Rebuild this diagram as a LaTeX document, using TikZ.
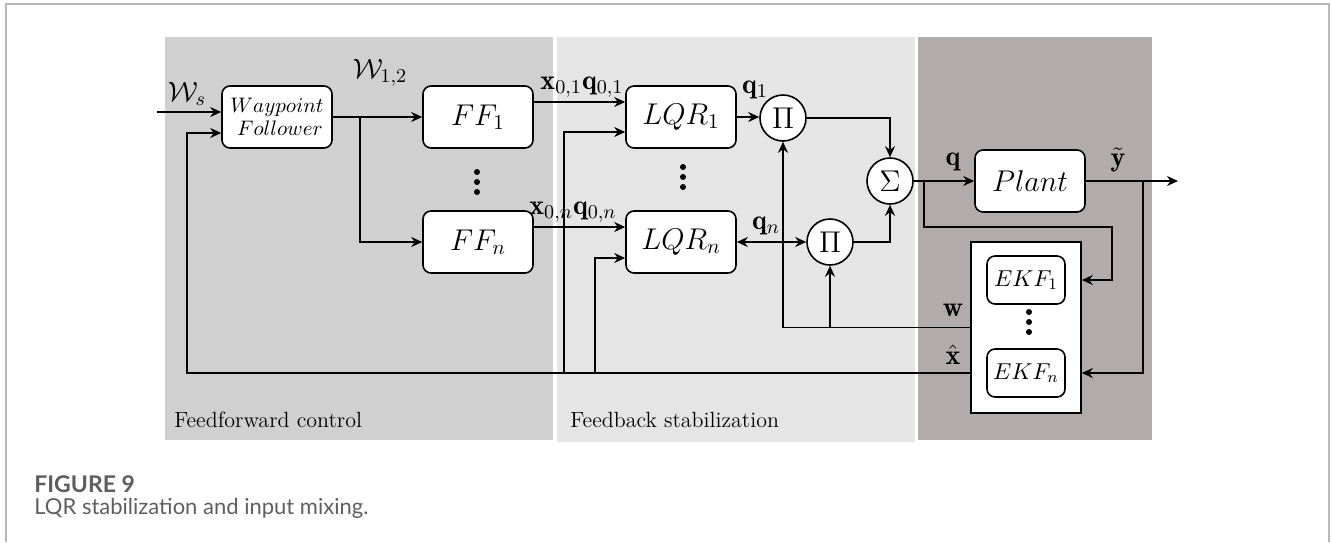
\documentclass[tikz,border=0pt]{standalone}
\usepackage{fix-cm}
\usepackage{fontspec}
\newfontfamily\capfont{Lato}
\usetikzlibrary{arrows.meta,calc}
\definecolor{pone}{HTML}{D0D0D0}
\definecolor{ptwo}{HTML}{E5E5E5}
\definecolor{pthree}{HTML}{B1ACAB}
\definecolor{framec}{HTML}{B8B8B8}
\definecolor{capgray}{HTML}{5E5E5E}
\begin{document}
\begin{tikzpicture}[x=0.5pt,y=-0.5pt,
  blk/.style={draw, fill=white, rounded corners=4pt, line width=0.8pt, minimum width=55pt, minimum height=31pt, inner sep=0pt, font=\fontsize{15}{17}\selectfont},
  op/.style={draw, fill=white, circle, line width=0.8pt, minimum size=23pt, inner sep=0pt, font=\fontsize{15}{17}\selectfont},
  arr/.style={-{Stealth[length=5.5pt,width=5pt]}, line width=0.8pt},
  darr/.style={{Stealth[length=5.5pt,width=5pt]}-{Stealth[length=5.5pt,width=5pt]}, line width=0.8pt},
  lbl/.style={font=\fontsize{14}{16}\selectfont, inner sep=0pt},
  panel/.style={anchor=west, font=\fontsize{11}{13}\selectfont, inner sep=0pt},
  dot/.style={fill=black}
]
\useasboundingbox (0,0) rectangle (1332,542);
% panels
\fill[pone] (165,37) rectangle (553,440);
\fill[ptwo] (557,37) rectangle (915,442);
\fill[pthree] (918,37) rectangle (1152,440);
\draw[framec, line width=0.7pt] (6,542) -- (6,4) -- (1329,4) -- (1329,542);

% blocks
\node[blk, font=\fontsize{10.5}{12.5}\selectfont, align=center] (wp) at (277,117) {$Waypoint$\\[-1pt]$\;Follower$};
\node[blk] (ff1) at (478,117) {$FF_1$};
\node[blk] (ffn) at (478,242) {$FF_n$};
\node[blk] (lqr1) at (681,117) {$LQR_1$};
\node[blk] (lqrn) at (681,242) {$LQR_n$};
\node[op] (pi1) at (783,118) {$\Pi$};
\node[op] (pin) at (830,242) {$\Pi$};
\node[op] (sig) at (890,181) {$\Sigma$};
\node[blk] (plant) at (1030,181) {$Plant$};
\node[draw, fill=white, line width=0.8pt, minimum width=55pt, minimum height=85.5pt, inner sep=0pt] (ekf) at (1026,327.5) {};
\node[blk, minimum width=39pt, minimum height=24pt, font=\fontsize{11.5}{13}\selectfont] (ekf1) at (1026,280) {$EKF_1$};
\node[blk, minimum width=39pt, minimum height=24pt, font=\fontsize{11.5}{13}\selectfont] (ekfn) at (1026,373) {$EKF_n$};

% vertical dots
\foreach \yy in {172,182,192} \fill[dot] (477,\yy) circle (1.5pt);
\foreach \yy in {167,177,187} \fill[dot] (683,\yy) circle (1.5pt);
\foreach \yy in {312,322,332} \fill[dot] (1029,\yy) circle (1.5pt);

% coordinates
\coordinate (ws) at (157,112);
\coordinate (br) at (360,117);
\coordinate (j1) at (564,373);
\coordinate (j2) at (595,373);
\coordinate (b1) at (924,181);
\coordinate (b2) at (1112,227);
\coordinate (b3) at (1143,181);
\coordinate (out) at (1178,181);

% connectors
\draw[arr] (ws) -- (wp.west |- ws);
\draw[arr] (wp.east) -- (ff1.west);
\draw[arr] (br) |- (ffn.west);
\draw[arr] ($(ff1.east)+(0,-15)$) -- ($(lqr1.west)+(0,-15)$);
\draw[arr] ($(ffn.east)+(0,-15)$) -- ($(lqrn.west)+(0,-15)$);
\draw[arr] (lqr1.east) -- (lqr1.east -| pi1.west);
\draw[darr] (lqrn.east) -- (pin.west);
\draw[arr] (pi1.east) -| (sig.north);
\draw[arr] (pin.east) -| (sig.south);
\draw[arr] (sig.east) -- (plant.west);
\draw[arr] (plant.east) -- (out);
\draw[arr] (b1) |- (b2) |- (ekf.east |- ekf1);
\draw[arr] (b3) |- (ekf.east |- ekfn);
\draw[arr] (ekf.west) -| (pi1.south);
\draw[arr] (pin.south |- ekf.west) -- (pin.south);
\draw[arr] (ekf.west |- ekfn) -| ($(wp.west)+(-34,16)$) -- ($(wp.west)+(0,16)$);
\draw[arr] (j1) |- ($(lqr1.west)+(0,15)$);
\draw[arr] (j2) |- ($(lqrn.west)+(0,16)$);

% labels
\node[lbl] (lws) at (187,94) {$\mathcal{W}_s$};
\node[lbl] (lw12) at (380,73) {$\mathcal{W}_{1,2}$};
\node[lbl] (lx01) at (582,87) {$\mathbf{x}_{0,1}\mathbf{q}_{0,1}$};
\node[lbl] (lx0n) at (573,212) {$\mathbf{x}_{0,n}\mathbf{q}_{0,n}$};
\node[lbl] (lq1) at (755,90) {$\mathbf{q}_1$};
\node[lbl] (lqn) at (766,226) {$\mathbf{q}_n$};
\node[lbl] (lq) at (953,162) {$\mathbf{q}$};
\node[lbl] (ly) at (1118,160) {$\tilde{\mathbf{y}}$};
\node[lbl] (lw) at (953,310) {$\mathbf{w}$};
\node[lbl] (lxh) at (953,355) {$\hat{\mathbf{x}}$};

\node[panel] (pl1) at (174,420) {Feedforward control};
\node[panel] (pl2) at (570,420) {Feedback stabilization};

% caption
\node[anchor=west, inner sep=0pt, text=capgray, font=\capfont\bfseries\fontsize{11.5}{13}\selectfont] (fig) at (34,484) {FIGURE 9};
\node[anchor=west, inner sep=0pt, text=capgray, font=\capfont\fontsize{11}{13}\selectfont] (cap) at (34,508) {LQR stabilization and input mixing.};
\end{tikzpicture}
\end{document}
